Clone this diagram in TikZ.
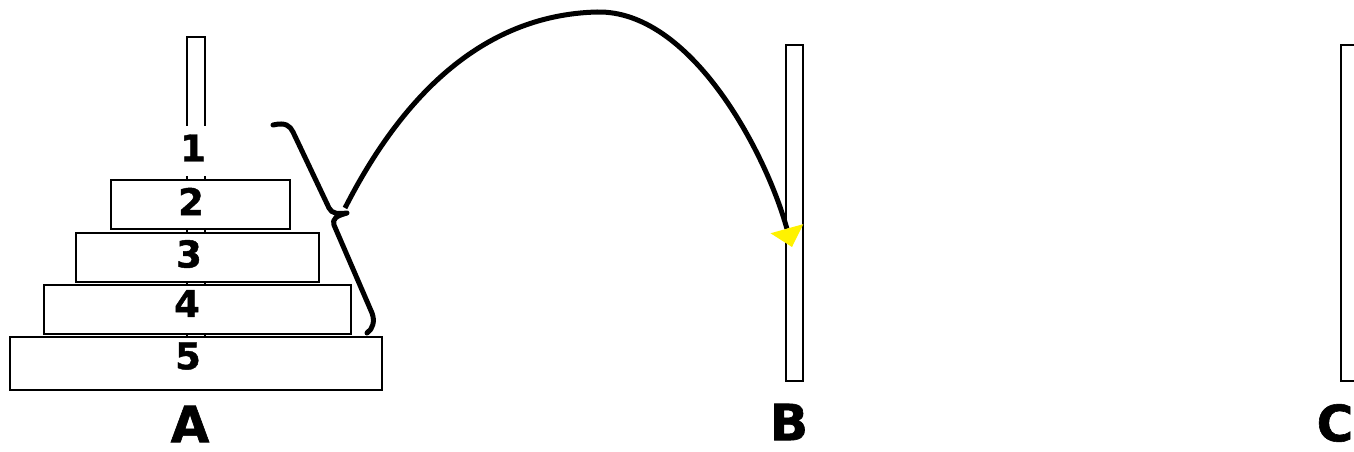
\documentclass[tikz,border=0pt]{standalone}
\usepackage{fontspec}
\setmainfont{DejaVu Sans}[BoldFeatures={FakeBold=1.2}]
\usetikzlibrary{arrows.meta}

\begin{document}
\begin{tikzpicture}[
    x=1pt, y=-1pt,
    peg/.style = {rectangle, draw, line width=1.5pt, minimum width=18pt, inner sep=0pt},
    disk/.style = {rectangle, draw, fill=white, line width=1.5pt, inner sep=0pt},
    number/.style = {inner sep=0pt, font=\fontsize{37}{37}\selectfont\bfseries},
    tower/.style = {inner sep=0pt, font=\fontsize{50}{50}\selectfont\bfseries},
    move/.style = {line width=5pt, -{Triangle[length=19pt, width=34pt, line width=0pt, color=yellow]}},
    bracket/.style = {line width=5pt, line cap=round, line join=round}]

    \useasboundingbox (0,0) rectangle (1354,452);

    \node[peg, minimum height=353pt] (pegA) at (196,213.5) {};
    \node[peg, minimum width=17pt, minimum height=336pt] (pegB) at (794.5,213) {};
    \node[peg, minimum height=336pt] (pegC) at (1350,213) {};

    \node[disk, draw=none, minimum width=100pt, minimum height=50pt] (disk1) at (196,151) {};
    \node[disk, minimum width=179pt, minimum height=49pt] (disk2) at (200.5,204.5) {};
    \node[disk, minimum width=243pt, minimum height=49pt] (disk3) at (197.5,257.5) {};
    \node[disk, minimum width=307pt, minimum height=49pt] (disk4) at (197.5,309.5) {};
    \node[disk, minimum width=372pt, minimum height=53pt] (disk5) at (196,363.5) {};

    \node[number] (num1) at (193,148) {1};
    \node[number] (num2) at (191,201.5) {2};
    \node[number] (num3) at (189,254) {3};
    \node[number] (num4) at (187,303.5) {4};
    \node[number] (num5) at (188,356) {5};

    \node[tower] (labA) at (190,424) {A};
    \node[tower] (labB) at (789,422) {B};
    \node[tower] (labC) at (1335,423) {C};

    \coordinate (bracetip) at (345,208);
    \coordinate (landB) at (792,247);

    % slanted curly bracket round disks 1 to 4
    \draw[bracket] (273,125) .. controls (286,122) and (290,126) .. (293,132)
        -- (329,208) .. controls (332,214) and (338,214) .. (347,213)
        .. controls (336,216) and (332,219) .. (334,225)
        -- (372,313) .. controls (375,321) and (373,329) .. (367,333);
    \draw[move] (bracetip) .. controls (400,100) and (480,15) .. (597,12)
        .. controls (690,10) and (765,150) .. (landB);
\end{tikzpicture}
\end{document}
